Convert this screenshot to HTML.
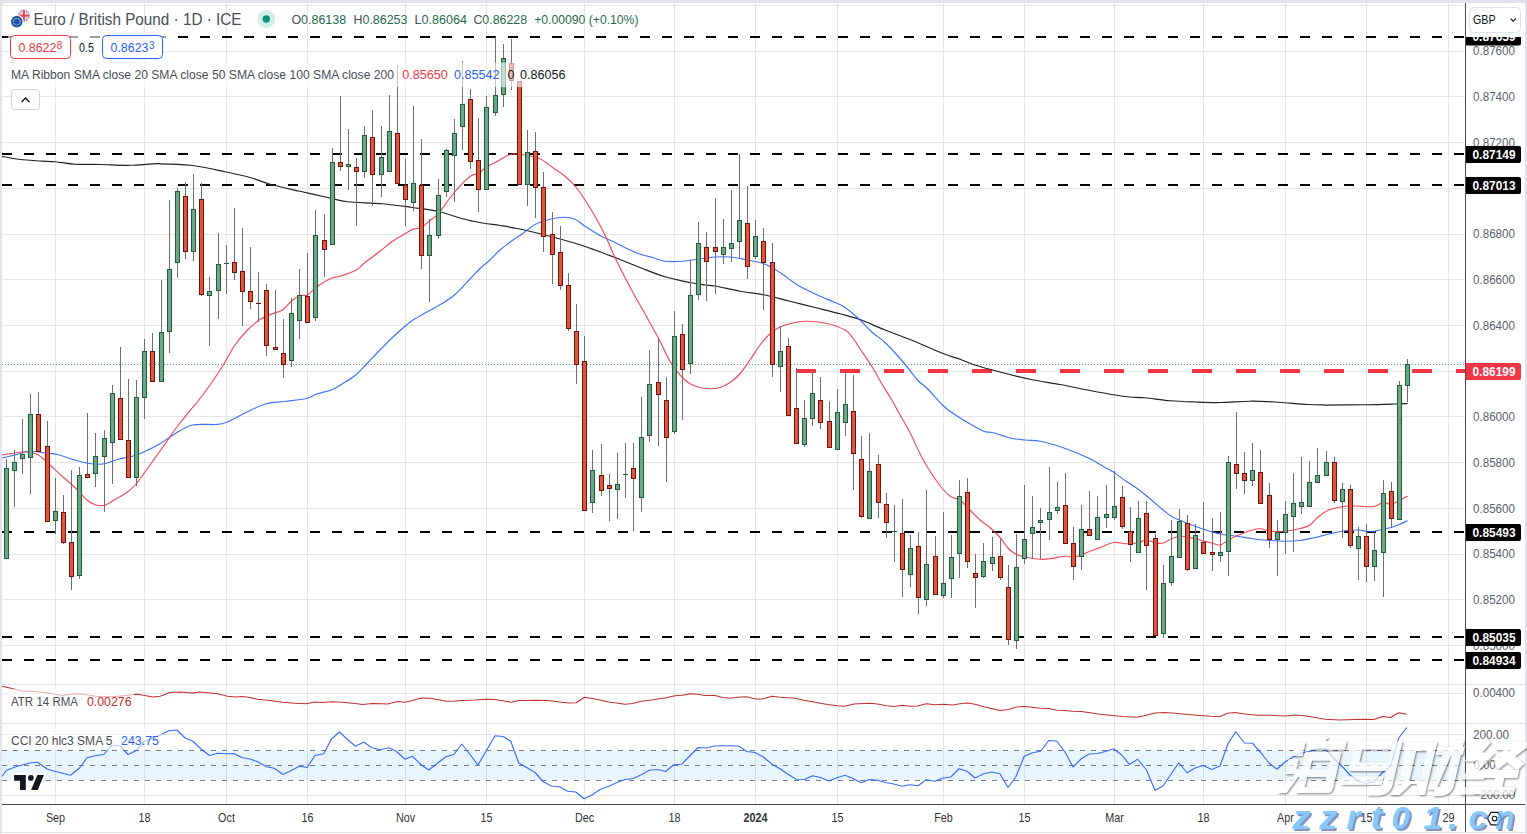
<!DOCTYPE html>
<html><head><meta charset="utf-8"><title>EUR/GBP chart</title>
<style>html,body{margin:0;padding:0;background:#fff;}body{width:1527px;height:834px;overflow:hidden;font-family:"Liberation Sans",sans-serif;}svg{display:block;}</style>
</head><body>
<svg width="1527" height="834" viewBox="0 0 1527 834" font-family="Liberation Sans, sans-serif">
<defs>
<clipPath id="cpMain"><rect x="2" y="3" width="1463" height="681"/></clipPath>
<clipPath id="cpAtr"><rect x="2" y="685" width="1463" height="38"/></clipPath>
<clipPath id="cpCci"><rect x="2" y="724" width="1463" height="80"/></clipPath>
<clipPath id="cpAxis"><rect x="1466" y="3" width="59" height="801"/></clipPath>
<clipPath id="cpEU"><circle cx="16.8" cy="21.6" r="5.8"/></clipPath>
<clipPath id="cpUK"><circle cx="23.8" cy="15.6" r="5.8"/></clipPath>
<filter id="wmsh" x="-10%" y="-10%" width="125%" height="130%">
<feGaussianBlur in="SourceAlpha" stdDeviation="0.8" result="b"/>
<feOffset in="b" dx="1.3" dy="1.3" result="o"/>
<feComponentTransfer in="o" result="s"><feFuncA type="linear" slope="0.72"/></feComponentTransfer>
<feMerge><feMergeNode in="s"/><feMergeNode in="SourceGraphic"/></feMerge>
</filter>
<filter id="wmsh2" x="-10%" y="-10%" width="125%" height="130%">
<feGaussianBlur in="SourceAlpha" stdDeviation="0.55" result="b"/>
<feOffset in="b" dx="1.7" dy="1.7" result="o"/>
<feFlood flood-color="#5a6fa8" result="c"/>
<feComposite in="c" in2="o" operator="in" result="s"/>
<feMerge><feMergeNode in="s"/><feMergeNode in="SourceGraphic"/></feMerge>
</filter>
</defs>
<rect width="1527" height="834" fill="#e0e3eb"/>
<path d="M2 832V7a4 4 0 0 1 4 -4H1521a4 4 0 0 1 4 4V832Z" fill="#ffffff"/>
<rect x="2" y="833" width="1523" height="1" fill="#ffffff"/>
<path d="M55.5 3V804 M144.5 3V804 M226.5 3V804 M307.5 3V804 M405.5 3V804 M486.5 3V804 M584.5 3V804 M674.5 3V804 M755.5 3V804 M837.5 3V804 M943.5 3V804 M1024.5 3V804 M1114.5 3V804 M1203.5 3V804 M1285.5 3V804 M1366.5 3V804 M1448.5 3V804 M2 5.5H1465 M2 51.5H1465 M2 96.5H1465 M2 142.5H1465 M2 188.5H1465 M2 234.5H1465 M2 279.5H1465 M2 325.5H1465 M2 371.5H1465 M2 416.5H1465 M2 462.5H1465 M2 508.5H1465 M2 554.5H1465 M2 599.5H1465 M2 645.5H1465 M2 693.5H1465 M2 734.5H1465 M2 795.5H1465" stroke="#e6e6e6" stroke-width="1" fill="none" shape-rendering="crispEdges"/>
<path d="M2 684.5H1525M2 723.5H1525" stroke="#e0e3eb" stroke-width="1" fill="none" shape-rendering="crispEdges"/>
<rect x="2" y="750.5" width="1463" height="30" fill="#2196f3" fill-opacity="0.1"/>
<path d="M2 750.5H1465M2 765.5H1465M2 780.5H1465" stroke="#787b86" stroke-width="1" stroke-dasharray="5 6" fill="none" shape-rendering="crispEdges"/>
<path d="M2 364.5H1465" stroke="#5a9e78" stroke-width="1" stroke-dasharray="1 2" fill="none" shape-rendering="crispEdges"/>
<path d="M2 37H1465 M2 154H1465 M2 185H1465 M2 532H1465 M2 637H1465 M2 660H1465" stroke="#000" stroke-width="2" stroke-dasharray="10 12" fill="none" shape-rendering="crispEdges"/>
<path d="M796 371H1465" stroke="#f23645" stroke-width="4" stroke-dasharray="20 24" fill="none" shape-rendering="crispEdges"/>
<g clip-path="url(#cpMain)" fill="none" stroke-linejoin="round" stroke-linecap="round">
<path d="M2.00 156.25C4.17 156.67 9.92 158.04 15.00 158.75C20.08 159.46 25.83 160.00 32.50 160.50C39.17 161.00 47.92 161.12 55.00 161.75C62.08 162.38 67.50 163.79 75.00 164.25C82.50 164.71 90.83 164.33 100.00 164.50C109.17 164.67 120.00 165.38 130.00 165.25C140.00 165.12 149.58 163.71 160.00 163.75C170.42 163.79 181.67 164.17 192.50 165.50C203.33 166.83 215.42 169.75 225.00 171.75C234.58 173.75 242.50 175.42 250.00 177.50C257.50 179.58 261.67 181.96 270.00 184.25C278.33 186.54 290.00 188.96 300.00 191.25C310.00 193.54 322.08 196.25 330.00 198.00C337.92 199.75 338.75 200.79 347.50 201.75C356.25 202.71 371.67 202.79 382.50 203.75C393.33 204.71 403.33 206.25 412.50 207.50C421.67 208.75 429.17 209.38 437.50 211.25C445.83 213.12 455.00 216.79 462.50 218.75C470.00 220.71 476.25 221.88 482.50 223.00C488.75 224.12 494.17 224.58 500.00 225.50C505.83 226.42 510.83 227.12 517.50 228.50C524.17 229.88 530.83 231.42 540.00 233.75C549.17 236.08 563.33 239.79 572.50 242.50C581.67 245.21 587.92 247.50 595.00 250.00C602.08 252.50 607.50 254.58 615.00 257.50C622.50 260.42 631.67 264.29 640.00 267.50C648.33 270.71 656.67 274.25 665.00 276.75C673.33 279.25 683.33 281.12 690.00 282.50C696.67 283.88 700.83 284.42 705.00 285.00C709.17 285.58 709.17 284.96 715.00 286.00C720.83 287.04 731.67 289.75 740.00 291.25C748.33 292.75 756.67 293.33 765.00 295.00C773.33 296.67 781.67 299.17 790.00 301.25C798.33 303.33 806.67 305.42 815.00 307.50C823.33 309.58 832.50 311.75 840.00 313.75C847.50 315.75 852.50 316.79 860.00 319.50C867.50 322.21 876.67 326.67 885.00 330.00C893.33 333.33 900.42 335.62 910.00 339.50C919.58 343.38 934.17 349.96 942.50 353.25C950.83 356.54 954.58 357.29 960.00 359.25C965.42 361.21 968.33 362.88 975.00 365.00C981.67 367.12 990.83 369.62 1000.00 372.00C1009.17 374.38 1020.00 377.17 1030.00 379.25C1040.00 381.33 1050.00 382.62 1060.00 384.50C1070.00 386.38 1080.83 388.75 1090.00 390.50C1099.17 392.25 1108.33 393.92 1115.00 395.00C1121.67 396.08 1125.00 396.54 1130.00 397.00C1135.00 397.46 1138.33 397.12 1145.00 397.75C1151.67 398.38 1161.67 400.04 1170.00 400.75C1178.33 401.46 1186.67 401.71 1195.00 402.00C1203.33 402.29 1210.83 402.62 1220.00 402.50C1229.17 402.38 1240.83 401.33 1250.00 401.25C1259.17 401.17 1265.42 401.46 1275.00 402.00C1284.58 402.54 1299.17 404.00 1307.50 404.50C1315.83 405.00 1315.42 404.96 1325.00 405.00C1334.58 405.04 1353.33 404.92 1365.00 404.75C1376.67 404.58 1387.96 404.21 1395.00 404.00C1402.04 403.79 1405.21 403.58 1407.25 403.50" stroke="#222222" stroke-width="1.25"/>
<path d="M2.00 458.00C4.17 457.50 10.33 456.12 15.00 455.00C19.67 453.88 25.00 451.58 30.00 451.25C35.00 450.92 40.42 452.46 45.00 453.00C49.58 453.54 52.92 453.46 57.50 454.50C62.08 455.54 67.50 457.79 72.50 459.25C77.50 460.71 82.50 462.46 87.50 463.25C92.50 464.04 97.50 464.62 102.50 464.00C107.50 463.38 112.50 460.79 117.50 459.50C122.50 458.21 128.12 457.50 132.50 456.25C136.88 455.00 139.17 454.08 143.75 452.00C148.33 449.92 154.79 446.79 160.00 443.75C165.21 440.71 169.58 436.88 175.00 433.75C180.42 430.62 185.83 426.54 192.50 425.00C199.17 423.46 209.38 424.92 215.00 424.50C220.62 424.08 221.25 424.42 226.25 422.50C231.25 420.58 238.46 416.08 245.00 413.00C251.54 409.92 258.83 405.92 265.50 404.00C272.17 402.08 278.21 402.42 285.00 401.50C291.79 400.58 300.83 399.79 306.25 398.50C311.67 397.21 313.33 395.17 317.50 393.75C321.67 392.33 327.08 391.67 331.25 390.00C335.42 388.33 338.33 386.33 342.50 383.75C346.67 381.17 352.08 377.96 356.25 374.50C360.42 371.04 363.54 367.08 367.50 363.00C371.46 358.92 375.83 354.25 380.00 350.00C384.17 345.75 388.33 341.46 392.50 337.50C396.67 333.54 401.58 329.17 405.00 326.25C408.42 323.33 409.67 322.21 413.00 320.00C416.33 317.79 420.21 315.71 425.00 313.00C429.79 310.29 436.75 306.83 441.75 303.75C446.75 300.67 450.29 298.62 455.00 294.50C459.71 290.38 465.83 283.33 470.00 279.00C474.17 274.67 476.67 271.67 480.00 268.50C483.33 265.33 486.67 263.08 490.00 260.00C493.33 256.92 496.46 253.12 500.00 250.00C503.54 246.88 507.50 243.96 511.25 241.25C515.00 238.54 518.54 236.54 522.50 233.75C526.46 230.96 530.83 226.79 535.00 224.50C539.17 222.21 542.92 221.21 547.50 220.00C552.08 218.79 557.92 217.38 562.50 217.25C567.08 217.12 571.25 217.75 575.00 219.25C578.75 220.75 580.83 223.54 585.00 226.25C589.17 228.96 595.00 232.79 600.00 235.50C605.00 238.21 610.00 240.08 615.00 242.50C620.00 244.92 625.83 248.04 630.00 250.00C634.17 251.96 636.25 253.00 640.00 254.25C643.75 255.50 648.33 256.33 652.50 257.50C656.67 258.67 660.00 260.62 665.00 261.25C670.00 261.88 677.08 261.58 682.50 261.25C687.92 260.92 692.08 259.96 697.50 259.25C702.92 258.54 709.58 257.38 715.00 257.00C720.42 256.62 725.00 256.58 730.00 257.00C735.00 257.42 739.38 258.38 745.00 259.50C750.62 260.62 757.92 261.58 763.75 263.75C769.58 265.92 774.38 268.96 780.00 272.50C785.62 276.04 791.25 281.25 797.50 285.00C803.75 288.75 811.25 292.08 817.50 295.00C823.75 297.92 830.42 300.42 835.00 302.50C839.58 304.58 841.25 305.00 845.00 307.50C848.75 310.00 853.04 313.42 857.50 317.50C861.96 321.58 867.17 327.83 871.75 332.00C876.33 336.17 879.88 337.62 885.00 342.50C890.12 347.38 897.08 355.00 902.50 361.25C907.92 367.50 913.33 375.42 917.50 380.00C921.67 384.58 923.33 384.58 927.50 388.75C931.67 392.92 938.75 401.25 942.50 405.00C946.25 408.75 945.83 408.33 950.00 411.25C954.17 414.17 961.88 419.17 967.50 422.50C973.12 425.83 979.58 429.58 983.75 431.25C987.92 432.92 988.12 431.38 992.50 432.50C996.88 433.62 1004.58 436.75 1010.00 438.00C1015.42 439.25 1020.00 439.46 1025.00 440.00C1030.00 440.54 1035.00 440.42 1040.00 441.25C1045.00 442.08 1049.58 443.33 1055.00 445.00C1060.42 446.67 1066.67 448.96 1072.50 451.25C1078.33 453.54 1084.58 456.04 1090.00 458.75C1095.42 461.46 1100.96 465.21 1105.00 467.50C1109.04 469.79 1110.92 470.33 1114.25 472.50C1117.58 474.67 1121.12 477.79 1125.00 480.50C1128.88 483.21 1133.33 485.71 1137.50 488.75C1141.67 491.79 1145.83 495.29 1150.00 498.75C1154.17 502.21 1158.96 506.58 1162.50 509.50C1166.04 512.42 1167.92 514.29 1171.25 516.25C1174.58 518.21 1178.54 519.58 1182.50 521.25C1186.46 522.92 1190.42 524.58 1195.00 526.25C1199.58 527.92 1205.42 529.88 1210.00 531.25C1214.58 532.62 1217.92 533.67 1222.50 534.50C1227.08 535.33 1232.50 535.54 1237.50 536.25C1242.50 536.96 1247.08 538.04 1252.50 538.75C1257.92 539.46 1264.58 540.08 1270.00 540.50C1275.42 540.92 1280.00 541.25 1285.00 541.25C1290.00 541.25 1295.00 541.12 1300.00 540.50C1305.00 539.88 1310.00 538.62 1315.00 537.50C1320.00 536.38 1325.00 534.88 1330.00 533.75C1335.00 532.62 1340.29 531.38 1345.00 530.75C1349.71 530.12 1354.08 529.83 1358.25 530.00C1362.42 530.17 1365.83 531.88 1370.00 531.75C1374.17 531.62 1379.71 529.96 1383.25 529.25C1386.79 528.54 1388.58 528.29 1391.25 527.50C1393.92 526.71 1396.58 525.62 1399.25 524.50C1401.92 523.38 1405.92 521.38 1407.25 520.75" stroke="#2962ff" stroke-width="1.15" stroke-opacity="0.9"/>
<path d="M2.00 455.00C5.83 454.46 19.08 451.83 25.00 451.75C30.92 451.67 33.33 452.29 37.50 454.50C41.67 456.71 45.67 461.17 50.00 465.00C54.33 468.83 59.33 473.75 63.50 477.50C67.67 481.25 71.00 483.67 75.00 487.50C79.00 491.33 83.96 497.58 87.50 500.50C91.04 503.42 93.42 504.21 96.25 505.00C99.08 505.79 101.38 506.17 104.50 505.25C107.62 504.33 111.17 501.71 115.00 499.50C118.83 497.29 123.96 494.62 127.50 492.00C131.04 489.38 132.50 488.25 136.25 483.75C140.00 479.25 145.62 471.04 150.00 465.00C154.38 458.96 157.92 453.96 162.50 447.50C167.08 441.04 172.50 432.92 177.50 426.25C182.50 419.58 189.25 411.46 192.50 407.50C195.75 403.54 194.08 406.25 197.00 402.50C199.92 398.75 205.75 391.04 210.00 385.00C214.25 378.96 218.33 372.92 222.50 366.25C226.67 359.58 230.83 351.04 235.00 345.00C239.17 338.96 243.33 334.25 247.50 330.00C251.67 325.75 255.83 322.21 260.00 319.50C264.17 316.79 268.75 315.33 272.50 313.75C276.25 312.17 279.38 312.08 282.50 310.00C285.62 307.92 288.33 303.67 291.25 301.25C294.17 298.83 297.29 296.54 300.00 295.50C302.71 294.46 304.58 296.54 307.50 295.00C310.42 293.46 313.54 289.04 317.50 286.25C321.46 283.46 327.50 279.92 331.25 278.25C335.00 276.58 335.83 277.62 340.00 276.25C344.17 274.88 352.08 272.29 356.25 270.00C360.42 267.71 361.04 265.62 365.00 262.50C368.96 259.38 375.42 254.79 380.00 251.25C384.58 247.71 388.33 244.17 392.50 241.25C396.67 238.33 401.58 235.75 405.00 233.75C408.42 231.75 410.29 230.29 413.00 229.25C415.71 228.21 418.42 228.96 421.25 227.50C424.08 226.04 427.17 222.79 430.00 220.50C432.83 218.21 434.21 218.42 438.25 213.75C442.29 209.08 448.92 198.75 454.25 192.50C459.58 186.25 466.25 179.38 470.25 176.25C474.25 173.12 475.58 175.29 478.25 173.75C480.92 172.21 483.42 168.88 486.25 167.00C489.08 165.12 491.29 164.58 495.25 162.50C499.21 160.42 506.00 155.88 510.00 154.50C514.00 153.12 516.75 154.17 519.25 154.25C521.75 154.33 521.54 154.25 525.00 155.00C528.46 155.75 535.42 156.67 540.00 158.75C544.58 160.83 548.33 164.58 552.50 167.50C556.67 170.42 561.04 172.92 565.00 176.25C568.96 179.58 572.92 183.54 576.25 187.50C579.58 191.46 581.88 195.21 585.00 200.00C588.12 204.79 591.67 210.42 595.00 216.25C598.33 222.08 601.67 228.12 605.00 235.00C608.33 241.88 611.67 250.42 615.00 257.50C618.33 264.58 621.67 271.04 625.00 277.50C628.33 283.96 631.67 290.21 635.00 296.25C638.33 302.29 642.08 308.54 645.00 313.75C647.92 318.96 650.00 322.92 652.50 327.50C655.00 332.08 657.08 335.62 660.00 341.25C662.92 346.88 666.67 355.62 670.00 361.25C673.33 366.88 676.67 371.25 680.00 375.00C683.33 378.75 686.67 381.67 690.00 383.75C693.33 385.83 696.67 386.67 700.00 387.50C703.33 388.33 706.67 388.75 710.00 388.75C713.33 388.75 716.67 388.54 720.00 387.50C723.33 386.46 726.67 384.79 730.00 382.50C733.33 380.21 736.67 377.50 740.00 373.75C743.33 370.00 746.67 364.79 750.00 360.00C753.33 355.21 756.67 349.38 760.00 345.00C763.33 340.62 766.67 336.75 770.00 333.75C773.33 330.75 776.67 328.67 780.00 327.00C783.33 325.33 785.83 324.71 790.00 323.75C794.17 322.79 799.17 321.38 805.00 321.25C810.83 321.12 818.33 321.54 825.00 323.00C831.67 324.46 840.42 327.58 845.00 330.00C849.58 332.42 850.00 334.38 852.50 337.50C855.00 340.62 856.67 343.75 860.00 348.75C863.33 353.75 868.75 361.46 872.50 367.50C876.25 373.54 879.17 379.38 882.50 385.00C885.83 390.62 889.58 396.25 892.50 401.25C895.42 406.25 897.08 409.79 900.00 415.00C902.92 420.21 906.67 426.04 910.00 432.50C913.33 438.96 916.67 447.29 920.00 453.75C923.33 460.21 926.25 465.42 930.00 471.25C933.75 477.08 938.96 484.46 942.50 488.75C946.04 493.04 948.33 495.12 951.25 497.00C954.17 498.88 956.88 497.83 960.00 500.00C963.12 502.17 966.67 506.67 970.00 510.00C973.33 513.33 976.67 517.08 980.00 520.00C983.33 522.92 986.67 524.58 990.00 527.50C993.33 530.42 996.92 533.96 1000.00 537.50C1003.08 541.04 1005.75 545.92 1008.50 548.75C1011.25 551.58 1013.75 553.12 1016.50 554.50C1019.25 555.88 1021.08 556.21 1025.00 557.00C1028.92 557.79 1035.83 558.96 1040.00 559.25C1044.17 559.54 1045.83 559.25 1050.00 558.75C1054.17 558.25 1060.83 556.54 1065.00 556.25C1069.17 555.96 1070.83 557.83 1075.00 557.00C1079.17 556.17 1085.83 552.83 1090.00 551.25C1094.17 549.67 1095.96 548.96 1100.00 547.50C1104.04 546.04 1110.08 543.12 1114.25 542.50C1118.42 541.88 1121.12 543.67 1125.00 543.75C1128.88 543.83 1133.96 543.62 1137.50 543.00C1141.04 542.38 1143.29 540.00 1146.25 540.00C1149.21 540.00 1152.42 542.50 1155.25 543.00C1158.08 543.50 1160.38 543.79 1163.25 543.00C1166.12 542.21 1169.29 539.38 1172.50 538.25C1175.71 537.12 1178.75 536.17 1182.50 536.25C1186.25 536.33 1190.42 537.71 1195.00 538.75C1199.58 539.79 1205.83 541.46 1210.00 542.50C1214.17 543.54 1216.92 545.42 1220.00 545.00C1223.08 544.58 1225.58 541.58 1228.50 540.00C1231.42 538.42 1233.50 537.17 1237.50 535.50C1241.50 533.83 1248.67 531.12 1252.50 530.00C1256.33 528.88 1257.58 528.54 1260.50 528.75C1263.42 528.96 1265.92 530.83 1270.00 531.25C1274.08 531.67 1279.79 531.75 1285.00 531.25C1290.21 530.75 1297.08 529.29 1301.25 528.25C1305.42 527.21 1307.29 526.79 1310.00 525.00C1312.71 523.21 1314.79 519.79 1317.50 517.50C1320.21 515.21 1323.33 512.79 1326.25 511.25C1329.17 509.71 1331.00 509.17 1335.00 508.25C1339.00 507.33 1345.04 506.00 1350.25 505.75C1355.46 505.50 1362.12 506.67 1366.25 506.75C1370.38 506.83 1372.17 506.96 1375.00 506.25C1377.83 505.54 1380.54 502.83 1383.25 502.50C1385.96 502.17 1388.58 504.54 1391.25 504.25C1393.92 503.96 1396.58 502.08 1399.25 500.75C1401.92 499.42 1405.92 497.00 1407.25 496.25" stroke="#f23645" stroke-width="1.15" stroke-opacity="0.9"/>
</g>
<g clip-path="url(#cpMain)" shape-rendering="crispEdges">
<path d="M6.5 459V559 M14.5 450V507 M22.5 419V474 M30.5 394V494 M38.5 392V452 M47.5 421V522 M55.5 478V534 M63.5 495V544 M71.5 470V590 M79.5 467V579 M87.5 413V478 M95.5 433V487 M104.5 430V512 M112.5 385V484 M120.5 347V440 M128.5 379V478 M136.5 380V486 M144.5 339V419 M152.5 333V382 M161.5 280V382 M169.5 200V353 M177.5 188V278 M185.5 182V259 M193.5 174V261 M201.5 183V296 M209.5 277V346 M218.5 233V319 M226.5 245V294 M234.5 208V280 M242.5 228V326 M250.5 247V309 M258.5 272V322 M266.5 284V356 M275.5 290V350 M283.5 319V378 M291.5 298V367 M299.5 269V339 M307.5 253V323 M315.5 210V321 M324.5 214V277 M332.5 148V245 M340.5 96V171 M348.5 129V190 M356.5 158V226 M364.5 126V178 M372.5 110V206 M381.5 126V197 M389.5 95V172 M397.5 65V184 M405.5 159V226 M413.5 106V211 M421.5 139V269 M429.5 219V302 M438.5 179V239 M446.5 149V197 M454.5 119V202 M462.5 61V150 M470.5 89V169 M478.5 118V212 M486.5 96V190 M495.5 37V116 M503.5 44V107 M511.5 39V90 M519.5 81V185 M527.5 130V206 M535.5 132V218 M543.5 172V252 M552.5 212V284 M560.5 226V290 M568.5 273V331 M576.5 304V384 M584.5 336V511 M592.5 450V513 M601.5 444V496 M609.5 474V521 M617.5 453V519 M625.5 443V498 M633.5 443V531 M641.5 397V512 M649.5 350V442 M658.5 339V446 M666.5 377V482 M674.5 311V434 M682.5 324V420 M690.5 260V374 M698.5 222V300 M706.5 232V301 M715.5 198V294 M723.5 219V264 M731.5 190V262 M739.5 154V258 M747.5 186V279 M755.5 220V259 M763.5 228V310 M772.5 243V377 M780.5 326V392 M788.5 338V416 M796.5 368V444 M804.5 400V447 M812.5 370V426 M820.5 377V429 M829.5 401V448 M837.5 389V450 M845.5 371V436 M853.5 375V490 M861.5 436V518 M869.5 433V519 M878.5 455V518 M886.5 493V538 M894.5 505V562 M902.5 499V597 M910.5 535V587 M918.5 532V614 M926.5 490V606 M935.5 536V595 M943.5 512V598 M951.5 535V598 M959.5 480V578 M967.5 478V568 M975.5 554V608 M983.5 543V578 M992.5 537V571 M1000.5 539V580 M1008.5 565V645 M1016.5 534V649 M1024.5 485V564 M1032.5 496V558 M1040.5 508V559 M1049.5 467V540 M1057.5 482V514 M1065.5 473V544 M1073.5 527V580 M1081.5 505V570 M1089.5 491V536 M1097.5 496V540 M1106.5 485V528 M1114.5 471V520 M1122.5 486V529 M1130.5 507V562 M1138.5 501V553 M1146.5 501V590 M1155.5 534V636 M1163.5 565V638 M1171.5 520V586 M1179.5 509V558 M1187.5 515V571 M1195.5 524V569 M1203.5 502V554 M1212.5 518V571 M1220.5 512V562 M1228.5 456V576 M1236.5 412V489 M1244.5 452V494 M1252.5 443V486 M1260.5 450V504 M1269.5 483V548 M1277.5 520V576 M1285.5 501V554 M1293.5 473V552 M1301.5 457V514 M1309.5 461V507 M1317.5 448V483 M1326.5 451V476 M1334.5 457V503 M1342.5 483V538 M1350.5 485V548 M1358.5 527V580 M1366.5 524V582 M1374.5 531V581 M1383.5 480V597 M1391.5 482V528 M1399.5 381V520 M1407.5 359V402" stroke="#6e6e6e" stroke-width="1" fill="none"/>
<path d="M4.5 468.5H8.5V558.5H4.5Z M12.5 462.5H16.5V470.5H12.5Z M20.5 454.5H24.5V458.5H20.5Z M28.5 414.5H32.5V457.5H28.5Z M53.5 511.5H57.5V520.5H53.5Z M77.5 475.5H81.5V575.5H77.5Z M93.5 456.5H97.5V473.5H93.5Z M102.5 438.5H106.5V456.5H102.5Z M110.5 393.5H114.5V442.5H110.5Z M134.5 397.5H138.5V477.5H134.5Z M142.5 351.5H146.5V397.5H142.5Z M159.5 332.5H163.5V381.5H159.5Z M167.5 269.5H171.5V331.5H167.5Z M175.5 191.5H179.5V262.5H175.5Z M191.5 209.5H195.5V251.5H191.5Z M207.5 291.5H211.5V295.5H207.5Z M216.5 264.5H220.5V290.5H216.5Z M289.5 313.5H293.5V360.5H289.5Z M297.5 295.5H301.5V320.5H297.5Z M313.5 235.5H317.5V317.5H313.5Z M330.5 162.5H334.5V244.5H330.5Z M346.5 164.5H350.5V166.5H346.5Z M362.5 135.5H366.5V171.5H362.5Z M379.5 157.5H383.5V174.5H379.5Z M387.5 131.5H391.5V171.5H387.5Z M411.5 183.5H415.5V202.5H411.5Z M427.5 235.5H431.5V255.5H427.5Z M436.5 195.5H440.5V235.5H436.5Z M444.5 150.5H448.5V191.5H444.5Z M452.5 133.5H456.5V155.5H452.5Z M460.5 104.5H464.5V126.5H460.5Z M484.5 107.5H488.5V189.5H484.5Z M493.5 95.5H497.5V112.5H493.5Z M501.5 58.5H505.5V94.5H501.5Z M525.5 152.5H529.5V184.5H525.5Z M590.5 470.5H594.5V502.5H590.5Z M615.5 484.5H619.5V489.5H615.5Z M639.5 437.5H643.5V497.5H639.5Z M647.5 384.5H651.5V435.5H647.5Z M672.5 336.5H676.5V431.5H672.5Z M688.5 295.5H692.5V363.5H688.5Z M696.5 243.5H700.5V294.5H696.5Z M721.5 247.5H725.5V254.5H721.5Z M729.5 243.5H733.5V248.5H729.5Z M737.5 220.5H741.5V241.5H737.5Z M753.5 236.5H757.5V256.5H753.5Z M778.5 351.5H782.5V366.5H778.5Z M802.5 418.5H806.5V444.5H802.5Z M810.5 393.5H814.5V418.5H810.5Z M835.5 412.5H839.5V449.5H835.5Z M843.5 404.5H847.5V422.5H843.5Z M867.5 471.5H871.5V518.5H867.5Z M908.5 548.5H912.5V574.5H908.5Z M924.5 564.5H928.5V599.5H924.5Z M941.5 583.5H945.5V595.5H941.5Z M949.5 557.5H953.5V578.5H949.5Z M957.5 496.5H961.5V553.5H957.5Z M981.5 561.5H985.5V576.5H981.5Z M990.5 557.5H994.5V563.5H990.5Z M1014.5 567.5H1018.5V640.5H1014.5Z M1022.5 539.5H1026.5V558.5H1022.5Z M1030.5 527.5H1034.5V533.5H1030.5Z M1038.5 520.5H1042.5V522.5H1038.5Z M1047.5 512.5H1051.5V519.5H1047.5Z M1055.5 507.5H1059.5V510.5H1055.5Z M1079.5 529.5H1083.5V556.5H1079.5Z M1095.5 517.5H1099.5V539.5H1095.5Z M1104.5 514.5H1108.5V517.5H1104.5Z M1112.5 506.5H1116.5V517.5H1112.5Z M1136.5 518.5H1140.5V552.5H1136.5Z M1161.5 583.5H1165.5V633.5H1161.5Z M1169.5 556.5H1173.5V582.5H1169.5Z M1177.5 521.5H1181.5V557.5H1177.5Z M1193.5 535.5H1197.5V568.5H1193.5Z M1218.5 552.5H1222.5V555.5H1218.5Z M1226.5 462.5H1230.5V551.5H1226.5Z M1250.5 470.5H1254.5V480.5H1250.5Z M1275.5 532.5H1279.5V539.5H1275.5Z M1283.5 514.5H1287.5V532.5H1283.5Z M1291.5 503.5H1295.5V516.5H1291.5Z M1299.5 502.5H1303.5V506.5H1299.5Z M1307.5 482.5H1311.5V506.5H1307.5Z M1315.5 475.5H1319.5V482.5H1315.5Z M1324.5 462.5H1328.5V475.5H1324.5Z M1340.5 489.5H1344.5V501.5H1340.5Z M1356.5 536.5H1360.5V548.5H1356.5Z M1372.5 550.5H1376.5V566.5H1372.5Z M1381.5 493.5H1385.5V552.5H1381.5Z M1397.5 385.5H1401.5V519.5H1397.5Z M1405.5 364.5H1409.5V385.5H1405.5Z" fill="#6ea685" stroke="#1e5c3a" stroke-width="1"/>
<path d="M36.5 414.5H40.5V451.5H36.5Z M45.5 446.5H49.5V521.5H45.5Z M61.5 512.5H65.5V542.5H61.5Z M69.5 542.5H73.5V576.5H69.5Z M85.5 474.5H89.5V477.5H85.5Z M118.5 398.5H122.5V439.5H118.5Z M126.5 440.5H130.5V477.5H126.5Z M150.5 351.5H154.5V381.5H150.5Z M183.5 196.5H187.5V251.5H183.5Z M199.5 199.5H203.5V294.5H199.5Z M232.5 262.5H236.5V272.5H232.5Z M240.5 271.5H244.5V291.5H240.5Z M248.5 291.5H252.5V301.5H248.5Z M264.5 290.5H268.5V345.5H264.5Z M273.5 347.5H277.5V349.5H273.5Z M281.5 353.5H285.5V364.5H281.5Z M305.5 296.5H309.5V322.5H305.5Z M322.5 240.5H326.5V249.5H322.5Z M338.5 162.5H342.5V166.5H338.5Z M354.5 167.5H358.5V171.5H354.5Z M370.5 137.5H374.5V174.5H370.5Z M395.5 133.5H399.5V183.5H395.5Z M403.5 185.5H407.5V199.5H403.5Z M419.5 185.5H423.5V255.5H419.5Z M468.5 99.5H472.5V161.5H468.5Z M476.5 160.5H480.5V189.5H476.5Z M509.5 63.5H513.5V80.5H509.5Z M517.5 81.5H521.5V184.5H517.5Z M533.5 151.5H537.5V187.5H533.5Z M541.5 187.5H545.5V236.5H541.5Z M550.5 234.5H554.5V254.5H550.5Z M558.5 252.5H562.5V285.5H558.5Z M566.5 285.5H570.5V328.5H566.5Z M574.5 331.5H578.5V364.5H574.5Z M582.5 361.5H586.5V510.5H582.5Z M599.5 475.5H603.5V490.5H599.5Z M607.5 485.5H611.5V488.5H607.5Z M631.5 468.5H635.5V478.5H631.5Z M656.5 382.5H660.5V394.5H656.5Z M664.5 400.5H668.5V437.5H664.5Z M680.5 334.5H684.5V369.5H680.5Z M704.5 247.5H708.5V261.5H704.5Z M713.5 247.5H717.5V251.5H713.5Z M745.5 223.5H749.5V266.5H745.5Z M761.5 241.5H765.5V262.5H761.5Z M770.5 262.5H774.5V364.5H770.5Z M786.5 346.5H790.5V415.5H786.5Z M794.5 408.5H798.5V443.5H794.5Z M818.5 400.5H822.5V422.5H818.5Z M827.5 421.5H831.5V447.5H827.5Z M851.5 411.5H855.5V453.5H851.5Z M859.5 459.5H863.5V516.5H859.5Z M876.5 464.5H880.5V502.5H876.5Z M884.5 504.5H888.5V522.5H884.5Z M900.5 533.5H904.5V569.5H900.5Z M916.5 546.5H920.5V597.5H916.5Z M933.5 556.5H937.5V594.5H933.5Z M965.5 492.5H969.5V561.5H965.5Z M973.5 573.5H977.5V577.5H973.5Z M998.5 556.5H1002.5V577.5H998.5Z M1006.5 587.5H1010.5V639.5H1006.5Z M1063.5 505.5H1067.5V543.5H1063.5Z M1071.5 543.5H1075.5V566.5H1071.5Z M1087.5 529.5H1091.5V535.5H1087.5Z M1120.5 497.5H1124.5V526.5H1120.5Z M1128.5 531.5H1132.5V544.5H1128.5Z M1144.5 513.5H1148.5V545.5H1144.5Z M1153.5 538.5H1157.5V635.5H1153.5Z M1185.5 523.5H1189.5V569.5H1185.5Z M1201.5 542.5H1205.5V553.5H1201.5Z M1210.5 552.5H1214.5V554.5H1210.5Z M1234.5 464.5H1238.5V473.5H1234.5Z M1242.5 473.5H1246.5V480.5H1242.5Z M1258.5 472.5H1262.5V503.5H1258.5Z M1267.5 495.5H1271.5V539.5H1267.5Z M1332.5 462.5H1336.5V500.5H1332.5Z M1348.5 489.5H1352.5V545.5H1348.5Z M1364.5 536.5H1368.5V566.5H1364.5Z M1389.5 491.5H1393.5V518.5H1389.5Z" fill="#e0553f" stroke="#6d1409" stroke-width="1"/>
<path d="M224.0 263.5H229.0 M623.0 474.5H628.0 M892.0 531.5H897.0" fill="none" stroke="#1e5c3a" stroke-width="1"/>
<path d="M256.0 303.5H261.0" fill="none" stroke="#6d1409" stroke-width="1"/>
</g>
<g clip-path="url(#cpAtr)" fill="none" stroke-linejoin="round">
<path d="M2.00 686.25 L10.00 688.00 L22.50 691.25 L32.50 691.25 L45.00 692.50 L55.00 694.25 L62.50 695.50 L70.00 694.25 L80.00 693.75 L87.50 695.00 L100.00 696.75 L112.50 696.75 L125.00 695.50 L137.50 694.25 L145.00 695.50 L152.50 697.00 L160.00 696.25 L170.00 692.50 L180.00 692.00 L192.50 693.00 L200.00 692.00 L210.00 693.00 L217.50 693.75 L227.50 696.25 L235.00 697.00 L242.50 696.50 L250.00 697.50 L257.50 699.25 L270.00 700.50 L282.50 702.25 L295.00 703.25 L306.25 703.75 L315.00 702.00 L322.50 702.50 L332.50 701.75 L345.00 702.50 L355.00 703.50 L362.50 704.50 L372.50 703.50 L381.75 703.75 L387.50 704.00 L397.50 701.50 L405.00 702.25 L412.50 700.50 L421.25 698.00 L430.00 698.25 L437.50 699.50 L446.25 701.25 L455.00 701.00 L462.50 700.50 L475.00 700.00 L485.00 699.25 L495.00 699.50 L502.50 700.75 L511.25 702.25 L518.75 700.50 L527.50 700.50 L537.50 700.25 L550.00 700.75 L560.00 702.00 L568.75 703.00 L576.25 702.75 L584.50 697.25 L592.50 698.50 L600.00 700.00 L608.75 702.00 L616.25 703.00 L625.00 704.25 L632.50 703.50 L641.25 701.25 L650.00 700.25 L657.50 699.00 L665.00 698.00 L675.00 695.75 L682.50 695.25 L690.00 693.75 L697.50 694.25 L705.00 695.50 L715.00 695.50 L722.50 697.50 L730.00 698.25 L737.50 697.25 L746.25 696.75 L752.50 698.25 L756.00 699.00 L762.50 699.00 L772.00 696.25 L780.00 697.25 L795.00 698.25 L803.75 700.25 L815.00 702.25 L827.50 704.50 L837.50 705.75 L845.00 706.25 L853.75 704.00 L870.00 703.25 L877.50 704.00 L886.25 705.75 L893.75 706.50 L902.00 705.25 L910.00 706.25 L917.50 706.00 L926.25 703.75 L935.00 704.75 L943.75 704.25 L952.50 705.00 L960.00 703.75 L967.50 703.00 L975.00 704.25 L983.75 706.75 L992.50 708.75 L1000.00 710.50 L1008.75 709.50 L1016.25 707.00 L1024.25 706.50 L1032.50 707.25 L1040.00 708.25 L1048.75 708.50 L1057.00 710.25 L1065.00 710.50 L1072.50 711.25 L1081.25 711.50 L1090.00 712.75 L1100.00 714.25 L1110.00 715.25 L1122.50 716.50 L1131.75 717.00 L1137.50 717.25 L1146.25 715.25 L1155.00 713.00 L1165.00 712.50 L1175.00 713.25 L1187.50 714.50 L1200.00 715.50 L1211.25 716.25 L1220.00 716.50 L1227.50 713.25 L1235.00 712.50 L1245.00 714.00 L1257.50 715.25 L1270.00 715.25 L1285.00 716.00 L1295.00 715.00 L1305.00 715.75 L1315.00 717.50 L1325.00 719.25 L1340.00 720.00 L1355.00 719.50 L1365.00 719.25 L1373.75 719.50 L1382.50 716.50 L1390.50 717.50 L1398.75 712.75 L1406.75 714.25" stroke="#c0302c" stroke-width="1.1"/>
</g>
<g clip-path="url(#cpCci)" fill="none" stroke-linejoin="round">
<path d="M2.00 776.25 L6.25 770.50 L15.00 767.00 L25.00 764.25 L31.25 762.75 L37.50 762.25 L47.50 769.25 L55.50 771.50 L63.50 773.50 L70.50 775.25 L79.50 768.00 L87.00 757.75 L95.00 755.75 L103.75 754.50 L111.25 745.75 L120.00 745.75 L128.00 754.50 L136.25 750.50 L144.50 741.25 L152.50 738.00 L160.00 735.00 L168.75 730.75 L177.00 730.00 L185.00 738.00 L193.00 741.25 L201.25 749.25 L209.50 755.50 L217.50 753.25 L226.25 753.75 L233.75 753.50 L241.75 757.50 L250.00 759.00 L258.25 762.00 L266.25 766.75 L274.25 768.25 L283.00 774.50 L291.25 770.50 L299.25 766.25 L307.00 767.50 L315.00 755.50 L323.75 753.75 L331.25 739.25 L339.50 732.00 L347.50 739.50 L355.50 746.25 L363.75 742.00 L371.75 747.75 L380.00 749.75 L388.75 747.75 L396.25 751.25 L405.00 759.25 L412.50 756.25 L420.75 764.50 L428.75 770.00 L437.50 763.25 L445.75 756.75 L453.75 754.50 L461.75 744.00 L470.00 754.50 L478.00 765.00 L486.25 750.75 L495.00 735.75 L503.00 736.50 L510.75 741.25 L518.75 763.00 L527.00 767.75 L535.00 772.50 L543.00 781.50 L551.25 786.00 L559.50 786.75 L567.50 791.25 L575.75 792.00 L584.00 798.75 L592.00 795.00 L600.00 789.50 L608.75 786.25 L616.75 782.50 L625.00 779.50 L633.00 778.50 L641.25 774.75 L649.25 770.25 L657.50 769.50 L665.50 771.50 L673.75 764.75 L681.75 764.25 L690.00 755.75 L698.00 747.50 L706.25 748.00 L714.25 746.00 L722.50 745.75 L730.50 745.75 L738.75 746.00 L746.75 751.50 L755.00 752.50 L763.00 756.75 L772.00 764.25 L780.00 768.75 L788.00 774.25 L796.25 779.25 L804.50 779.50 L812.50 775.75 L820.50 777.50 L828.75 781.00 L836.75 777.75 L845.00 775.25 L853.00 778.50 L861.25 782.75 L869.50 779.50 L877.50 780.25 L885.75 782.50 L893.75 784.00 L902.00 786.25 L910.00 784.75 L918.00 785.75 L926.25 779.75 L934.50 781.25 L942.50 778.25 L950.75 777.00 L959.00 768.75 L967.00 771.25 L975.00 778.00 L983.75 773.75 L991.75 772.00 L1000.00 773.75 L1008.00 787.50 L1015.75 777.00 L1024.25 756.25 L1032.50 752.75 L1040.50 751.25 L1048.75 740.50 L1056.75 741.00 L1065.00 752.00 L1073.00 767.00 L1081.25 758.75 L1089.25 754.00 L1097.50 753.50 L1105.50 751.50 L1113.75 748.75 L1121.75 755.00 L1129.50 764.50 L1137.50 759.25 L1146.25 769.50 L1155.00 790.25 L1163.00 786.00 L1170.75 774.50 L1178.75 762.75 L1187.00 772.75 L1195.00 768.00 L1203.00 765.50 L1211.75 769.50 L1220.00 766.00 L1228.00 743.75 L1235.75 731.75 L1244.50 743.00 L1252.50 743.25 L1260.75 752.50 L1268.75 762.75 L1277.00 769.25 L1285.00 762.00 L1293.00 757.00 L1301.25 753.00 L1309.50 751.50 L1317.50 748.75 L1325.00 748.75 L1333.75 758.25 L1342.00 766.25 L1350.00 775.00 L1358.75 781.25 L1366.25 783.25 L1373.75 782.00 L1382.50 772.50 L1390.50 766.25 L1398.75 738.00 L1406.75 727.50" stroke="#2962ff" stroke-width="1.15" stroke-opacity="0.92"/>
</g>
<rect x="1466" y="3" width="59" height="829" fill="#ffffff"/>
<path d="M1466 684.5H1525M1466 723.5H1525" stroke="#e0e3eb" stroke-width="1" fill="none" shape-rendering="crispEdges"/>
<g clip-path="url(#cpAxis)">
<text x="1473" y="54.9" font-size="12.3" fill="#5d606b" textLength="42" lengthAdjust="spacingAndGlyphs">0.87600</text>
<text x="1473" y="101.3" font-size="12.3" fill="#5d606b" textLength="42" lengthAdjust="spacingAndGlyphs">0.87400</text>
<text x="1473" y="147.0" font-size="12.3" fill="#5d606b" textLength="42" lengthAdjust="spacingAndGlyphs">0.87200</text>
<text x="1473" y="192.7" font-size="12.3" fill="#5d606b" textLength="42" lengthAdjust="spacingAndGlyphs">0.87000</text>
<text x="1473" y="238.4" font-size="12.3" fill="#5d606b" textLength="42" lengthAdjust="spacingAndGlyphs">0.86800</text>
<text x="1473" y="284.1" font-size="12.3" fill="#5d606b" textLength="42" lengthAdjust="spacingAndGlyphs">0.86600</text>
<text x="1473" y="329.9" font-size="12.3" fill="#5d606b" textLength="42" lengthAdjust="spacingAndGlyphs">0.86400</text>
<text x="1473" y="375.6" font-size="12.3" fill="#5d606b" textLength="42" lengthAdjust="spacingAndGlyphs">0.86200</text>
<text x="1473" y="421.3" font-size="12.3" fill="#5d606b" textLength="42" lengthAdjust="spacingAndGlyphs">0.86000</text>
<text x="1473" y="467.0" font-size="12.3" fill="#5d606b" textLength="42" lengthAdjust="spacingAndGlyphs">0.85800</text>
<text x="1473" y="512.7" font-size="12.3" fill="#5d606b" textLength="42" lengthAdjust="spacingAndGlyphs">0.85600</text>
<text x="1473" y="558.4" font-size="12.3" fill="#5d606b" textLength="42" lengthAdjust="spacingAndGlyphs">0.85400</text>
<text x="1473" y="604.1" font-size="12.3" fill="#5d606b" textLength="42" lengthAdjust="spacingAndGlyphs">0.85200</text>
<text x="1473" y="649.8" font-size="12.3" fill="#5d606b" textLength="42" lengthAdjust="spacingAndGlyphs">0.85000</text>
<text x="1473" y="697.0" font-size="12.3" fill="#5d606b" textLength="42" lengthAdjust="spacingAndGlyphs">0.00400</text>
<text x="1473" y="739.2" font-size="12.3" fill="#5d606b" textLength="36" lengthAdjust="spacingAndGlyphs">200.00</text>
<text x="1473.4" y="769.4" font-size="12.3" fill="#5d606b" textLength="22.3" lengthAdjust="spacingAndGlyphs">0.00</text>
<text x="1473.8" y="799.4" font-size="12.3" fill="#5d606b" textLength="41.2" lengthAdjust="spacingAndGlyphs">−200.00</text>
<path d="M1466 28.5H1519a2 2 0 0 1 2 2V43.5a2 2 0 0 1 -2 2H1466Z" fill="#000"/>
<text x="1472.5" y="41.3" font-size="12.3" font-weight="bold" fill="#fff" textLength="43" lengthAdjust="spacingAndGlyphs">0.87659</text>
<path d="M1466 146.0H1519a2 2 0 0 1 2 2V161.0a2 2 0 0 1 -2 2H1466Z" fill="#000"/>
<text x="1472.5" y="158.8" font-size="12.3" font-weight="bold" fill="#fff" textLength="43" lengthAdjust="spacingAndGlyphs">0.87149</text>
<path d="M1466 177.0H1519a2 2 0 0 1 2 2V192.0a2 2 0 0 1 -2 2H1466Z" fill="#000"/>
<text x="1472.5" y="189.8" font-size="12.3" font-weight="bold" fill="#fff" textLength="43" lengthAdjust="spacingAndGlyphs">0.87013</text>
<path d="M1466 363.0H1519a2 2 0 0 1 2 2V378.0a2 2 0 0 1 -2 2H1466Z" fill="#f23645"/>
<text x="1472.5" y="375.8" font-size="12.3" font-weight="bold" fill="#fff" textLength="43" lengthAdjust="spacingAndGlyphs">0.86199</text>
<path d="M1466 524.0H1519a2 2 0 0 1 2 2V539.0a2 2 0 0 1 -2 2H1466Z" fill="#000"/>
<text x="1472.5" y="536.8" font-size="12.3" font-weight="bold" fill="#fff" textLength="43" lengthAdjust="spacingAndGlyphs">0.85493</text>
<path d="M1466 629.0H1519a2 2 0 0 1 2 2V644.0a2 2 0 0 1 -2 2H1466Z" fill="#000"/>
<text x="1472.5" y="641.8" font-size="12.3" font-weight="bold" fill="#fff" textLength="43" lengthAdjust="spacingAndGlyphs">0.85035</text>
<path d="M1466 652.0H1519a2 2 0 0 1 2 2V667.0a2 2 0 0 1 -2 2H1466Z" fill="#000"/>
<text x="1472.5" y="664.8" font-size="12.3" font-weight="bold" fill="#fff" textLength="43" lengthAdjust="spacingAndGlyphs">0.84934</text>
</g>
<rect x="1466" y="3" width="59" height="34" fill="#ffffff"/>
<rect x="1469.5" y="7.5" width="51" height="25" rx="4" fill="#ffffff" stroke="#e0e3eb" stroke-width="1"/>
<text x="1473" y="24.4" font-size="12" fill="#131722" textLength="22.5" lengthAdjust="spacingAndGlyphs">GBP</text>
<path d="M1510.6 18.6l2.6 2.6l2.6 -2.6" stroke="#131722" stroke-width="1.3" fill="none"/>
<path d="M1465.5 3V832M2 804.5H1525" stroke="#4a4a4a" stroke-width="1" fill="none" shape-rendering="crispEdges"/>
<text transform="translate(55.5,822) scale(0.9,1)" font-size="12" fill="#333333" text-anchor="middle">Sep</text>
<text transform="translate(144.5,822) scale(0.9,1)" font-size="12" fill="#333333" text-anchor="middle">18</text>
<text transform="translate(226.5,822) scale(0.9,1)" font-size="12" fill="#333333" text-anchor="middle">Oct</text>
<text transform="translate(307.5,822) scale(0.9,1)" font-size="12" fill="#333333" text-anchor="middle">16</text>
<text transform="translate(405.5,822) scale(0.9,1)" font-size="12" fill="#333333" text-anchor="middle">Nov</text>
<text transform="translate(486.5,822) scale(0.9,1)" font-size="12" fill="#333333" text-anchor="middle">15</text>
<text transform="translate(584.5,822) scale(0.9,1)" font-size="12" fill="#333333" text-anchor="middle">Dec</text>
<text transform="translate(674.5,822) scale(0.9,1)" font-size="12" fill="#333333" text-anchor="middle">18</text>
<text transform="translate(755.5,822) scale(0.9,1)" font-size="12" fill="#333333" text-anchor="middle" font-weight="bold">2024</text>
<text transform="translate(837.5,822) scale(0.9,1)" font-size="12" fill="#333333" text-anchor="middle">15</text>
<text transform="translate(943.5,822) scale(0.9,1)" font-size="12" fill="#333333" text-anchor="middle">Feb</text>
<text transform="translate(1024.5,822) scale(0.9,1)" font-size="12" fill="#333333" text-anchor="middle">15</text>
<text transform="translate(1114.5,822) scale(0.9,1)" font-size="12" fill="#333333" text-anchor="middle">Mar</text>
<text transform="translate(1203.5,822) scale(0.9,1)" font-size="12" fill="#333333" text-anchor="middle">18</text>
<text transform="translate(1285.5,822) scale(0.9,1)" font-size="12" fill="#333333" text-anchor="middle">Apr</text>
<text transform="translate(1366.5,822) scale(0.9,1)" font-size="12" fill="#333333" text-anchor="middle">15</text>
<text transform="translate(1448.5,822) scale(0.9,1)" font-size="12" fill="#333333" text-anchor="middle">29</text>
<rect x="8" y="33" width="158" height="28" fill="#fff" fill-opacity="0.62"/>
<rect x="8" y="62.6" width="560" height="24.5" fill="#fff" fill-opacity="0.6"/>
<rect x="8" y="689" width="126" height="24.5" fill="#fff" fill-opacity="0.6"/>
<rect x="8" y="728.3" width="154" height="21.7" fill="#fff" fill-opacity="0.6"/>
<circle cx="23.8" cy="15.6" r="5.8" fill="#1e3a9e"/>
<g clip-path="url(#cpUK)"><path d="M17 9L31 22M31 9L17 22" stroke="#fff" stroke-width="2.6"/><path d="M17 9L31 22M31 9L17 22" stroke="#e8455a" stroke-width="1"/><path d="M23.8 9V23M17 15.6H31" stroke="#fff" stroke-width="4"/><path d="M23.8 9V23M17 15.6H31" stroke="#e8455a" stroke-width="2.2"/></g>
<circle cx="16.8" cy="21.6" r="6.9" fill="#fff"/>
<circle cx="16.8" cy="21.6" r="5.8" fill="#1a54b8"/>
<circle cx="20.20" cy="21.60" r="0.55" fill="#ffd83a"/><circle cx="19.74" cy="23.30" r="0.55" fill="#ffd83a"/><circle cx="18.50" cy="24.54" r="0.55" fill="#ffd83a"/><circle cx="16.80" cy="25.00" r="0.55" fill="#ffd83a"/><circle cx="15.10" cy="24.54" r="0.55" fill="#ffd83a"/><circle cx="13.86" cy="23.30" r="0.55" fill="#ffd83a"/><circle cx="13.40" cy="21.60" r="0.55" fill="#ffd83a"/><circle cx="13.86" cy="19.90" r="0.55" fill="#ffd83a"/><circle cx="15.10" cy="18.66" r="0.55" fill="#ffd83a"/><circle cx="16.80" cy="18.20" r="0.55" fill="#ffd83a"/><circle cx="18.50" cy="18.66" r="0.55" fill="#ffd83a"/><circle cx="19.74" cy="19.90" r="0.55" fill="#ffd83a"/>
<text x="33.5" y="25" font-size="16" fill="#4a4d57" textLength="208" lengthAdjust="spacingAndGlyphs">Euro / British Pound · 1D · ICE</text>
<circle cx="266.3" cy="19" r="9" fill="#d3ede8"/><circle cx="266.3" cy="19" r="3.7" fill="#0a8f7a"/>
<text x="291.4" y="24" font-size="13" textLength="54.7" lengthAdjust="spacingAndGlyphs"><tspan fill="#4a4d57">O</tspan><tspan fill="#1f6a4b">0.86138</tspan></text>
<text x="353.5" y="24" font-size="13" textLength="53.9" lengthAdjust="spacingAndGlyphs"><tspan fill="#4a4d57">H</tspan><tspan fill="#1f6a4b">0.86253</tspan></text>
<text x="414.5" y="24" font-size="13" textLength="52.4" lengthAdjust="spacingAndGlyphs"><tspan fill="#4a4d57">L</tspan><tspan fill="#1f6a4b">0.86064</tspan></text>
<text x="473.4" y="24" font-size="13" textLength="53.7" lengthAdjust="spacingAndGlyphs"><tspan fill="#4a4d57">C</tspan><tspan fill="#1f6a4b">0.86228</tspan></text>
<text x="534.2" y="24" font-size="13" fill="#1f6a4b" textLength="104.3" lengthAdjust="spacingAndGlyphs">+0.00090 (+0.10%)</text>
<rect x="10.5" y="35.5" width="60" height="23" rx="4" fill="#fff" stroke="#f23645" stroke-width="1"/>
<text x="18.4" y="51.8" font-size="13" fill="#f23645" textLength="38" lengthAdjust="spacingAndGlyphs">0.8622</text><text x="56.8" y="48.8" font-size="10" fill="#f23645">8</text>
<text x="79" y="51.8" font-size="12" fill="#131722" textLength="15" lengthAdjust="spacingAndGlyphs">0.5</text>
<rect x="102.5" y="35.5" width="60" height="23" rx="4" fill="#fff" stroke="#2962ff" stroke-width="1"/>
<text x="110.5" y="51.8" font-size="13" fill="#2962ff" textLength="38" lengthAdjust="spacingAndGlyphs">0.8623</text><text x="148.9" y="48.8" font-size="10" fill="#2962ff">3</text>
<text x="11" y="79.3" font-size="12.3" fill="#4a4d57" textLength="383" lengthAdjust="spacingAndGlyphs">MA Ribbon SMA close 20 SMA close 50 SMA close 100 SMA close 200</text>
<text x="402.3" y="79.3" font-size="12.3" fill="#f23645" textLength="45.5" lengthAdjust="spacingAndGlyphs">0.85650</text>
<text x="453.9" y="79.3" font-size="12.3" fill="#2962ff" textLength="45.5" lengthAdjust="spacingAndGlyphs">0.85542</text>
<text x="507.4" y="79.3" font-size="12.3" fill="#131722">0</text>
<text x="520" y="79.3" font-size="12.3" fill="#131722" textLength="45.5" lengthAdjust="spacingAndGlyphs">0.86056</text>
<rect x="11.5" y="89.5" width="28" height="20" rx="3" fill="#fff" stroke="#d1d4dc" stroke-width="1"/>
<path d="M21.6 102l3.9 -3.9l3.9 3.9" stroke="#131722" stroke-width="1.4" fill="none"/>
<text x="11" y="705.7" font-size="12.3" fill="#4a4d57" textLength="67" lengthAdjust="spacingAndGlyphs">ATR 14 RMA</text>
<text x="87" y="705.7" font-size="12.3" fill="#c0302c" textLength="44.5" lengthAdjust="spacingAndGlyphs">0.00276</text>
<text x="11" y="745" font-size="12.3" fill="#4a4d57" textLength="101.5" lengthAdjust="spacingAndGlyphs">CCI 20 hlc3 SMA 5</text>
<text x="121" y="745" font-size="12.3" fill="#2962ff" textLength="38" lengthAdjust="spacingAndGlyphs">243.75</text>
<g stroke="#fff" stroke-width="4" stroke-linejoin="round" fill="#131722" paint-order="stroke"><path d="M14.1 775.1H25.8V789.9H20V780.8H14.1Z"/><circle cx="30.9" cy="777.9" r="2.9"/><path d="M37.3 775.1H43.9L37.8 789.9H31.1Z"/></g>
<path d="M1501.80 818.60 L1498.20 824.84 L1491.00 824.84 L1487.40 818.60 L1491.00 812.36 L1498.20 812.36Z" fill="none" stroke="#131722" stroke-width="1.1"/><circle cx="1494.6" cy="818.6" r="2.3" fill="none" stroke="#131722" stroke-width="1.1"/>
<g filter="url(#wmsh)" opacity="0.72" fill="none" stroke="#ffffff" stroke-linejoin="miter" stroke-linecap="butt">
<g transform="translate(1294,740) skewX(-13)">
<path d="M14 12H50V48Q50 53 45 53H14Z M22.5 20.5H41V29.5H22.5Z M21.5 37H41V47.3H21.5Z" fill="#ffffff" fill-rule="evenodd" stroke="none"/>
<path d="M22 1H53V9.5H22Z" fill="#ffffff" fill-rule="evenodd" stroke="none"/>
<path d="M25 -3H34L26 9.5H17Z" fill="#ffffff" fill-rule="evenodd" stroke="none"/>
<path d="M8 29.5H15V37H8Z" fill="#ffffff" fill-rule="evenodd" stroke="none"/>
<path d="M2 2H12V16H2Z" fill="#ffffff" fill-rule="evenodd" stroke="none"/>
<path d="M-1 19H9V34H-1Z" fill="#ffffff" fill-rule="evenodd" stroke="none"/>
<path d="M3.5 37H12.5L4.6 53H-4.4Z" fill="#ffffff" fill-rule="evenodd" stroke="none"/>
</g>
<g transform="translate(1352,740) skewX(-13)">
<path d="M4 5H50" stroke-width="8.5"/>
<path d="M46 1V45Q46 51 38 50.75H28" stroke-width="9.5"/>
<path d="M8 1V26.75H46" stroke-width="8.5"/>
<path d="M-1 40.5H40" stroke-width="8.5"/>
</g>
<g transform="translate(1410,740) skewX(-13)">
<path d="M-2 2H27.5V44H-2Z M8.5 11H19.5V41H8.5Z" fill="#ffffff" fill-rule="evenodd" stroke="none"/>
<path d="M2 44H11L2 55H-8Z" fill="#ffffff" fill-rule="evenodd" stroke="none"/>
<path d="M17 44H27.5V55H22Z" fill="#ffffff" fill-rule="evenodd" stroke="none"/>
<path d="M29.5 7H56V15H29.5Z" fill="#ffffff" fill-rule="evenodd" stroke="none"/>
<path d="M49.7 0V45Q49.7 52 42 51.5H36" stroke-width="9"/>
<path d="M36 15H44.5L37.4 49.5H29Z" fill="#ffffff" fill-rule="evenodd" stroke="none"/>
</g>
<g transform="translate(1474,740) skewX(-13)">
<path d="M14 0L3 17H16L3 35H19" stroke-width="8.5"/>
<path d="M24 5.75H50L28 26" stroke-width="8.5"/>
<path d="M31 12L53 27" stroke-width="8.5"/>
<path d="M18 34H52" stroke-width="8"/>
<path d="M34.5 34V50" stroke-width="9"/>
<path d="M-2 50.75H52" stroke-width="7.5"/>
</g>
</g>
<g filter="url(#wmsh2)" opacity="0.74" font-weight="bold" font-style="italic" fill="#5fb4f8">
<text transform="translate(1292.2,828.6) scale(1.1,1)" font-size="33">z</text>
<text transform="translate(1319.2,828.6) scale(1.1,1)" font-size="33">z</text>
<text transform="translate(1346.5,828.6) scale(1.1,1)" font-size="33">r</text>
<text transform="translate(1370.5,828.6) scale(1.1,1)" font-size="33">t</text>
<text transform="translate(1391.5,828.6) scale(1.1,1)" font-size="30.5">0</text>
<text transform="translate(1423.5,828.6) scale(1.1,1)" font-size="30.5">1</text>
<text transform="translate(1448.0,828.6) scale(1.1,1)" font-size="33">.</text>
<text transform="translate(1468.6,828.6) scale(1.04,1)" font-size="33">c</text>
<text transform="translate(1495.2,828.6) scale(0.95,1)" font-size="33">n</text>
</g>
</svg>
</body></html>
